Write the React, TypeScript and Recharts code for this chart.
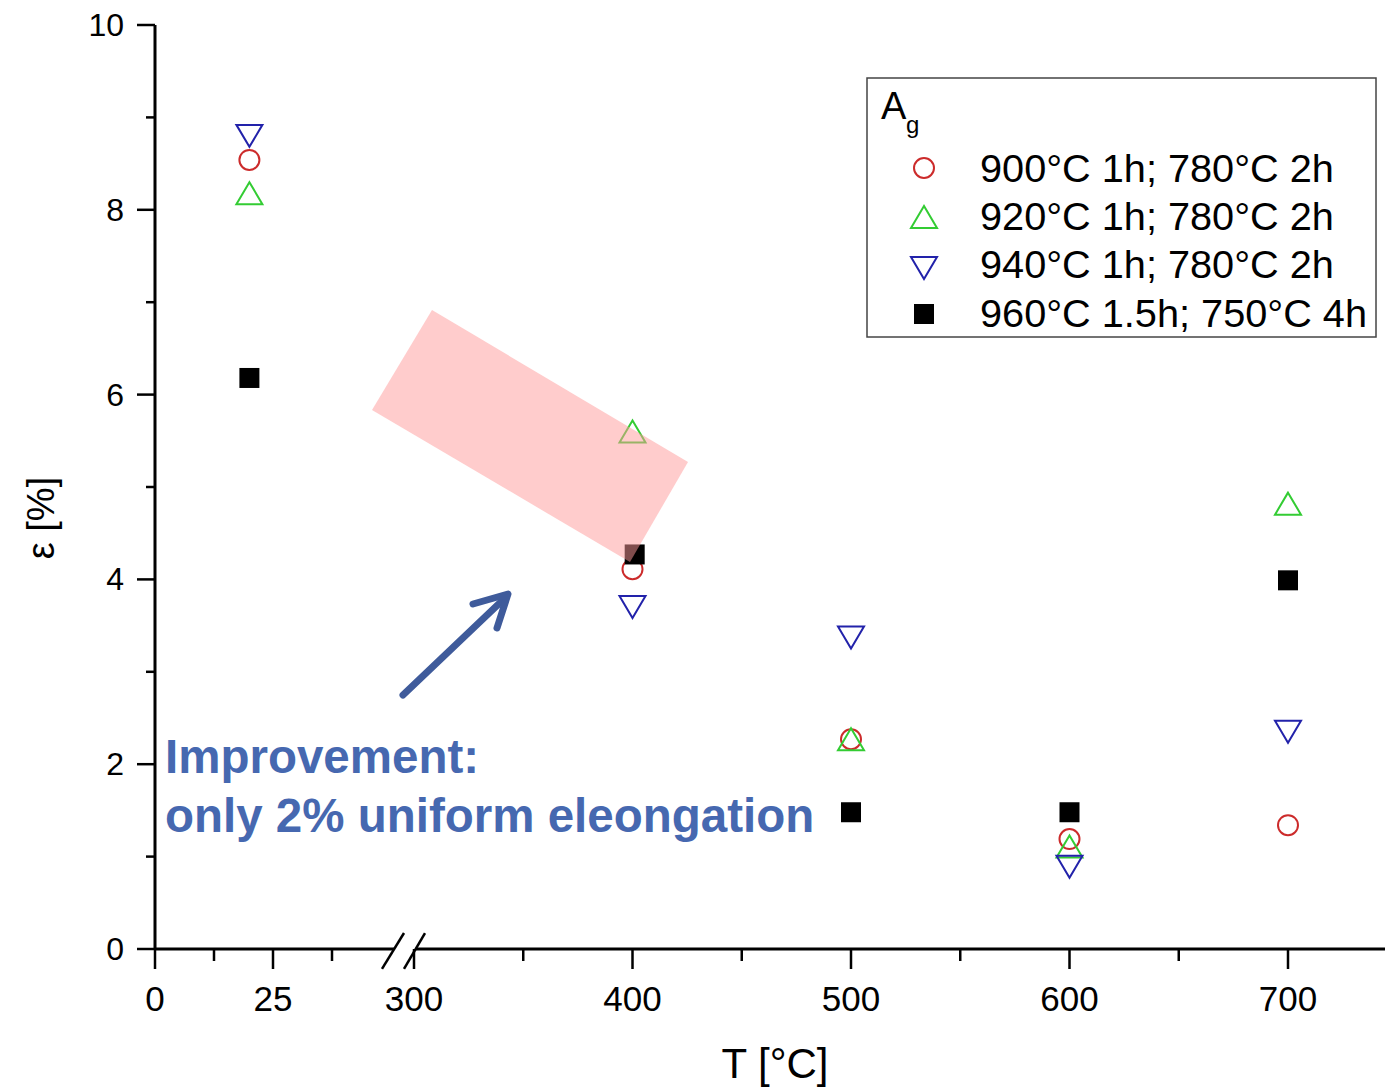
import { ScatterChart, Scatter, XAxis, YAxis, ReferenceLine } from "recharts";

// measured temperatures (°C) and uniform elongation A_g (%)
const temps = [20, 400, 500, 600, 700];
const temps960 = [20, 401, 500, 600, 700];
const ag900 = [8.54, 4.11, 2.27, 1.19, 1.34];
const ag920 = [8.18, 5.6, 2.27, 1.11, 4.82];
const ag940 = [8.8, 3.7, 3.37, 0.89, 2.35];
const ag960 = [6.18, 4.27, 1.48, 1.48, 3.99];

const xMajor = [0, 25, 300, 400, 500, 600, 700];
const xMinor = [12.5, 37.5, 350, 450, 550, 650];
const yTicks = [0, 1, 2, 3, 4, 5, 6, 7, 8, 9, 10];

const seriesNames = [
  "900°C 1h; 780°C 2h",
  "920°C 1h; 780°C 2h",
  "940°C 1h; 780°C 2h",
  "960°C 1.5h; 750°C 4h",
];

// broken x axis: 0..40 on a stretched segment, 300.. on a compressed one
const LOW_SCALE = 4.72;
const HIGH_START = 259;
const HIGH_SCALE = 2.185;
const toAxis = (t: number) => (t < 200 ? t * LOW_SCALE : HIGH_START + (t - 300) * HIGH_SCALE);
const X_MAX = 1230;

const pts = (ts: number[], vals: number[]) => ts.map((t, i) => ({ v: toAxis(t), e: vals[i] }));

const RED = "#cc2b2b";
const GREEN = "#33cc33";
const BLUE = "#2222aa";
const FONT = "'Liberation Sans', Arial, sans-serif";

const CircleMark = ({ cx, cy }: any) => (
  <circle cx={cx} cy={cy} r={10} fill="none" stroke={RED} strokeWidth={2} />
);
const UpMark = ({ cx, cy }: any) => (
  <polygon points={`${cx},${cy - 11} ${cx - 13},${cy + 11} ${cx + 13},${cy + 11}`} fill="none" stroke={GREEN} strokeWidth={2} />
);
const DownMark = ({ cx, cy }: any) => (
  <polygon points={`${cx - 13},${cy - 11} ${cx + 13},${cy - 11} ${cx},${cy + 11}`} fill="none" stroke={BLUE} strokeWidth={2} />
);
const SquareMark = ({ cx, cy }: any) => <rect x={cx - 10} y={cy - 10} width={20} height={20} fill="#000" />;

const majorPos = xMajor.map(toAxis);

const XTick = ({ x, y, payload }: any) => {
  const idx = majorPos.findIndex((p) => Math.abs(p - payload.value) < 1e-6);
  const major = idx >= 0;
  return (
    <g>
      <line x1={x} x2={x} y1={y} y2={y + (major ? 20 : 12)} stroke="#000" strokeWidth={2.5} />
      {major && (
        <text x={x} y={y + 62} textAnchor="middle" fontSize={35} fontFamily={FONT} fill="#000">
          {xMajor[idx]}
        </text>
      )}
    </g>
  );
};

const YTick = ({ x, y, payload }: any) => {
  const major = payload.value % 2 === 0;
  return (
    <g>
      <line x1={x - (major ? 18 : 9)} x2={x} y1={y} y2={y} stroke="#000" strokeWidth={2.5} />
      {major && (
        <text x={x - 31} y={y + 11} textAnchor="end" fontSize={32} fontFamily={FONT} fill="#000">
          {payload.value}
        </text>
      )}
    </g>
  );
};

const legendMarks = [
  <circle key="c" cx={924} cy={168} r={10} fill="none" stroke={RED} strokeWidth={2} />,
  <polygon key="u" points="924,206 911,228 937,228" fill="none" stroke={GREEN} strokeWidth={2} />,
  <polygon key="d" points="911,257 937,257 924,279" fill="none" stroke={BLUE} strokeWidth={2} />,
  <rect key="s" x={914} y={304} width={20} height={20} fill="#000" />,
];
const legendBaselines = [182, 230, 278, 327];

export default function App() {
  return (
    <div style={{ position: "absolute", left: 0, top: 0, width: 1385, height: 1091, background: "#fff" }}>
      <ScatterChart width={1385} height={1091} margin={{ top: 25, right: 0, bottom: 0, left: 0 }}>
        <XAxis
          type="number"
          dataKey="v"
          domain={[0, X_MAX]}
          allowDataOverflow
          ticks={[...majorPos, ...xMinor.map(toAxis)].sort((a, b) => a - b)}
          interval={0}
          tick={<XTick />}
          tickSize={0}
          tickMargin={0}
          tickLine={false}
          axisLine={false}
          height={142}
        />
        <YAxis
          type="number"
          dataKey="e"
          domain={[0, 10]}
          ticks={yTicks}
          interval={0}
          tick={<YTick />}
          tickSize={0}
          tickMargin={0}
          tickLine={false}
          axisLine={{ stroke: "#000", strokeWidth: 3 }}
          width={155}
        />
        <ReferenceLine segment={[{ x: 0, y: 0 }, { x: 239, y: 0 }]} stroke="#000" strokeWidth={3} ifOverflow="visible" />
        <ReferenceLine segment={[{ x: 261, y: 0 }, { x: X_MAX, y: 0 }]} stroke="#000" strokeWidth={3} ifOverflow="visible" />
        <ReferenceLine segment={[{ x: 227, y: -0.216 }, { x: 249, y: 0.173 }]} stroke="#000" strokeWidth={2.5} ifOverflow="visible" />
        <ReferenceLine segment={[{ x: 249, y: -0.216 }, { x: 270, y: 0.173 }]} stroke="#000" strokeWidth={2.5} ifOverflow="visible" />
        <Scatter name={seriesNames[0]} data={pts(temps, ag900)} shape={<CircleMark />} isAnimationActive={false} />
        <Scatter name={seriesNames[1]} data={pts(temps, ag920)} shape={<UpMark />} isAnimationActive={false} />
        <Scatter name={seriesNames[2]} data={pts(temps, ag940)} shape={<DownMark />} isAnimationActive={false} />
        <Scatter name={seriesNames[3]} data={pts(temps960, ag960)} shape={<SquareMark />} isAnimationActive={false} />
      </ScatterChart>

      <svg
        width={1385}
        height={1091}
        style={{ position: "absolute", left: 0, top: 0, pointerEvents: "none" }}
        fontFamily={FONT}
      >
        {/* axis titles */}
        <text x={775} y={1078} textAnchor="middle" fontSize={42} fill="#000">T [°C]</text>
        <text x={54} y={518} textAnchor="middle" fontSize={38} fill="#000" transform="rotate(-90 54 518)">ε [%]</text>

        {/* highlighted region */}
        <polygon points="432,310 372,410 630,562 688,462" fill="#ff9a9a" opacity={0.5} />

        {/* arrow + annotation */}
        <g stroke="#3f5b9b" strokeWidth={7} strokeLinecap="round" fill="none">
          <line x1={403} y1={695} x2={506} y2={597} />
          <polyline points="473,604 508,594 497,628" strokeLinejoin="round" />
        </g>
        <text x={165} y={773} fontSize={47.5} fontWeight="bold" fill="#4668b0">Improvement:</text>
        <text x={165} y={832} fontSize={47.5} fontWeight="bold" fill="#4668b0">only 2% uniform eleongation</text>

        {/* legend */}
        <rect x={867} y={78} width={509} height={259} fill="#fff" stroke="#444" strokeWidth={1.5} />
        <text x={881} y={119} fontSize={38} fill="#000">A</text>
        <text x={906} y={133} fontSize={24} fill="#000">g</text>
        {legendMarks}
        {seriesNames.map((n, i) => (
          <text key={n} x={980} y={legendBaselines[i]} fontSize={39.7} fill="#000">{n}</text>
        ))}
      </svg>
    </div>
  );
}
